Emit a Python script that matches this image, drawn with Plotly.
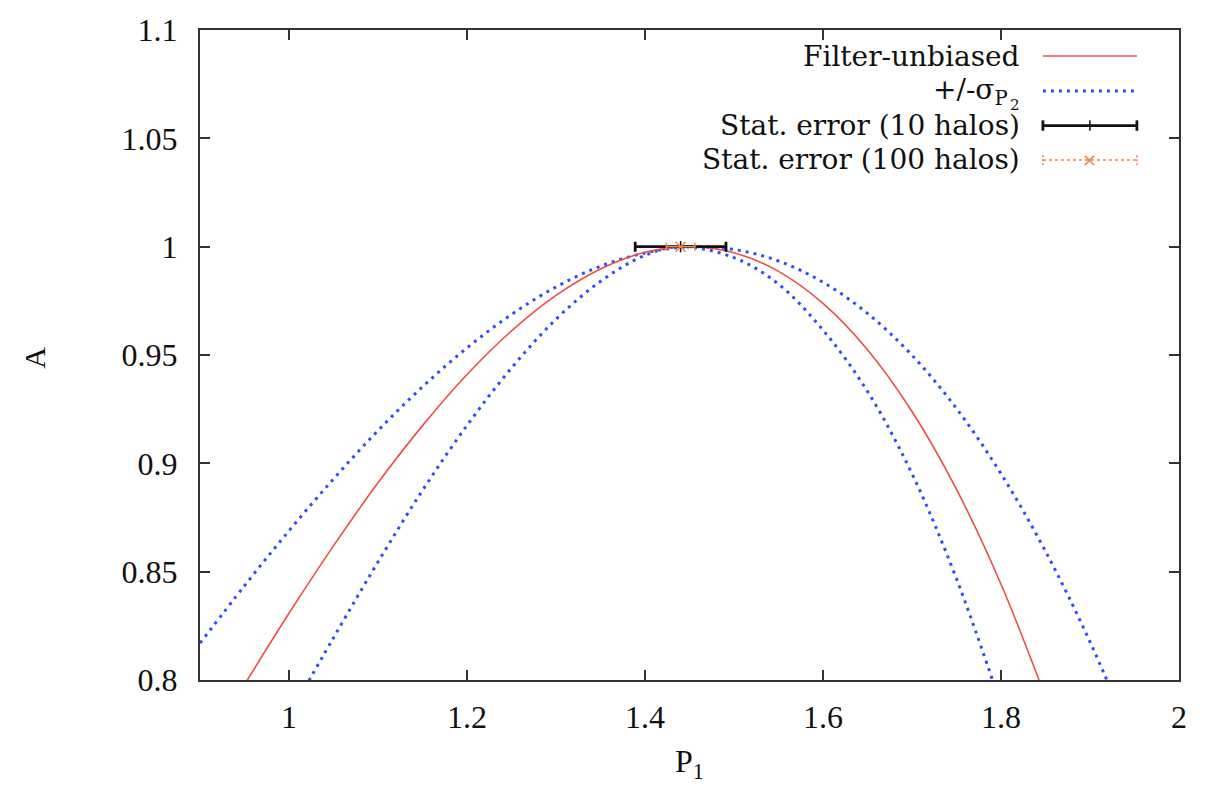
import plotly.graph_objects as go

# Filter-unbiased curve A(P1)
red_p = [0.95, 1.00, 1.05, 1.10, 1.15, 1.20, 1.25, 1.30, 1.35, 1.40,
         1.45, 1.50, 1.55, 1.60, 1.65, 1.70, 1.75, 1.80, 1.85]
red_a = [0.7979, 0.8308, 0.8619, 0.8910, 0.9174, 0.9410, 0.9611, 0.9775, 0.9897, 0.9974,
         1.0000, 0.9972, 0.9886, 0.9738, 0.9524, 0.9239, 0.8880, 0.8442, 0.7921]

# +/- sigma_P2 envelopes
outer_p = [0.90, 0.95, 1.00, 1.05, 1.10, 1.15, 1.20, 1.25, 1.30, 1.35, 1.40, 1.45,
           1.50, 1.55, 1.60, 1.65, 1.70, 1.75, 1.80, 1.85, 1.90, 1.95]
outer_a = [0.8170, 0.8435, 0.8689, 0.8928, 0.9151, 0.9353, 0.9533, 0.9687, 0.9814, 0.9910,
           0.9971, 0.9999, 0.9987, 0.9934, 0.9836, 0.9692, 0.9499, 0.9253, 0.8952, 0.8594,
           0.8176, 0.7694]
inner_p = [1.00, 1.05, 1.10, 1.15, 1.20, 1.25, 1.30, 1.35, 1.40, 1.44,
           1.50, 1.55, 1.60, 1.65, 1.70, 1.75, 1.80]
inner_a = [0.7835, 0.8195, 0.8545, 0.8875, 0.9175, 0.9440, 0.9665, 0.9840, 0.9960, 1.0000,
           0.9949, 0.9827, 0.9615, 0.9332, 0.8952, 0.8467, 0.7884]

# Statistical errors on the best-fit P1
stat_p1 = [1.44]
stat_a = [1.0]
err10 = [0.051]
err100 = [0.016]

xtick_vals = [1, 1.2, 1.4, 1.6, 1.8, 2]
xtick_text = ["1", "1.2", "1.4", "1.6", "1.8", "2"]
ytick_vals = [0.8, 0.85, 0.9, 0.95, 1.0, 1.05, 1.1]
ytick_text = ["0.8", "0.85", "0.9", "0.95", "1", "1.05", "1.1"]

RED = "#ec4f45"
BLUE = "#2f4dff"
ORANGE = "#f0824a"
BLACK = "#111111"
FONT = "Liberation Serif"
KEYFONT = "DejaVu Serif"
DOT = "3px,5px"

fig = go.Figure()

fig.add_trace(go.Scatter(x=outer_p, y=outer_a, mode="lines", line_shape="spline",
                         line=dict(color=BLUE, width=3, dash=DOT), hoverinfo="skip"))
fig.add_trace(go.Scatter(x=inner_p, y=inner_a, mode="lines", line_shape="spline",
                         line=dict(color=BLUE, width=3, dash=DOT), hoverinfo="skip"))
fig.add_trace(go.Scatter(x=red_p, y=red_a, mode="lines", line_shape="spline",
                         line=dict(color=RED, width=1.6)))

fig.add_trace(go.Scatter(x=stat_p1, y=stat_a, mode="markers",
                         marker=dict(symbol="line-ns", size=8, color=BLACK,
                                     line=dict(color=BLACK, width=1.5)),
                         error_x=dict(type="data", array=err10, color=BLACK,
                                      thickness=2.8, width=5)))
fig.add_trace(go.Scatter(x=stat_p1, y=stat_a, mode="markers",
                         marker=dict(symbol="x-thin", size=10, color=ORANGE,
                                     line=dict(color=ORANGE, width=1.5)),
                         error_x=dict(type="data", array=err100, color=ORANGE,
                                      thickness=1.5, width=4)))

# Key: text on the left, sample on the right
L0, L1 = 0.861, 0.957
TX = 0.8397
rows = [0.960, 0.906, 0.853, 0.800]
labels = ["Filter-unbiased", "+/-σ<sub>P</sub>", "Stat. error (10 halos)",
          "Stat. error (100 halos)"]
ann = []
for lab, yy in zip(labels, rows):
    ann.append(dict(x=TX if lab[0] != "+" else TX - 0.012, y=yy, xref="paper", yref="paper",
                    text=lab, showarrow=False, xanchor="right", yanchor="middle",
                    font=dict(family=KEYFONT, size=28, color=BLACK)))
ann.append(dict(x=TX, y=rows[1] - 0.021, xref="paper", yref="paper", text="2",
                showarrow=False, xanchor="right", yanchor="middle",
                font=dict(family=KEYFONT, size=15, color=BLACK)))
ann.append(dict(x=0.5, y=-0.128, xref="paper", yref="paper", text="P<sub>1</sub>",
                showarrow=False, xanchor="center", yanchor="middle",
                font=dict(family=FONT, size=32, color=BLACK)))
ann.append(dict(x=-0.1685, y=0.496, xref="paper", yref="paper", text="A",
                showarrow=False, xanchor="center", yanchor="middle", textangle=-90,
                font=dict(family=FONT, size=30, color=BLACK)))

shapes = [
    dict(type="line", xref="paper", yref="paper", x0=L0, x1=L1, y0=rows[0], y1=rows[0],
         line=dict(color=RED, width=1.6)),
    dict(type="line", xref="paper", yref="paper", x0=L0, x1=L1, y0=rows[1], y1=rows[1],
         line=dict(color=BLUE, width=3, dash=DOT)),
    dict(type="line", xref="paper", yref="paper", x0=L0, x1=L1, y0=rows[2], y1=rows[2],
         line=dict(color=BLACK, width=2.8)),
    dict(type="line", xref="paper", yref="paper", x0=L0, x1=L1, y0=rows[3], y1=rows[3],
         line=dict(color=ORANGE, width=1.5, dash="3px,3px")),
]
cap = 0.008
xm = (L0 + L1) / 2
for x0, w in [(L0, 2.8), (L1, 2.8), (xm, 1.5)]:
    shapes.append(dict(type="line", xref="paper", yref="paper", x0=x0, x1=x0,
                       y0=rows[2] - cap, y1=rows[2] + cap, line=dict(color=BLACK, width=w)))
for x0 in (L0, L1):
    shapes.append(dict(type="line", xref="paper", yref="paper", x0=x0, x1=x0,
                       y0=rows[3] - cap, y1=rows[3] + cap,
                       line=dict(color=ORANGE, width=1.5, dash="2px,2px")))
ann.append(dict(x=xm, y=rows[3], xref="paper", yref="paper", text="×", showarrow=False,
                font=dict(family="DejaVu Sans", size=18, color=ORANGE),
                xanchor="center", yanchor="middle"))

axis_common = dict(showline=True, linecolor="#333333", linewidth=2, mirror="allticks",
                   ticks="inside", ticklen=10, tickwidth=1.5, tickcolor="#333333",
                   showgrid=False, zeroline=False,
                   tickfont=dict(family=FONT, size=32, color=BLACK))

fig.update_layout(
    width=1212, height=785,
    margin=dict(l=200, r=33, t=25, b=105),
    paper_bgcolor="white", plot_bgcolor="white",
    showlegend=False,
    xaxis=dict(range=[0.9, 2.0], tickvals=xtick_vals, ticktext=xtick_text,
               ticklabelstandoff=8, **axis_common),
    yaxis=dict(range=[0.8, 1.1], tickvals=ytick_vals, ticktext=ytick_text,
               ticklabelstandoff=14, **axis_common),
    annotations=ann, shapes=shapes,
)

fig.write_html("out.html")
